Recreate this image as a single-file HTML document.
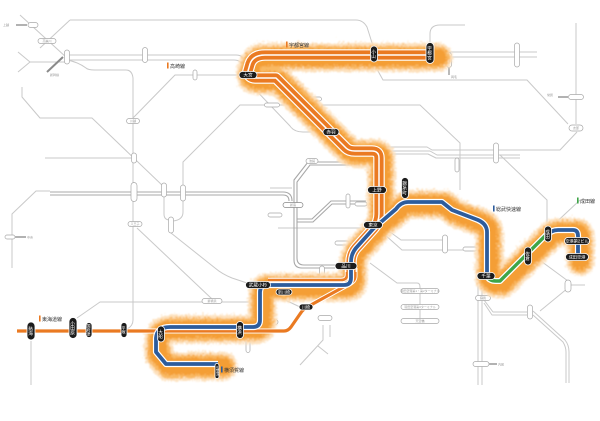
<!DOCTYPE html>
<html><head><meta charset="utf-8">
<style>
html,body{margin:0;padding:0;background:#fff;}
svg{display:block;}
text{font-family:"Liberation Sans","Noto Sans CJK JP",sans-serif;}
</style></head><body>
<svg width="600" height="421" viewBox="0 0 600 421" xmlns="http://www.w3.org/2000/svg">
<defs>
<filter id="glow" filterUnits="userSpaceOnUse" x="0" y="0" width="600" height="421">
<feTurbulence type="turbulence" baseFrequency="0.42" numOctaves="1" seed="5" result="t"/>
<feDisplacementMap in="SourceGraphic" in2="t" scale="7" xChannelSelector="R" yChannelSelector="G" result="d"/>
<feGaussianBlur in="d" stdDeviation="0.9"/>
</filter>
<path id="rn" d="M436,55 H265 Q253,55 250,64 L248,71 Q248,78 256,78 H276 L346,148 Q349,151 355,151 H372 Q379,151 379,158 V214 Q379,222 374,228 L356,248 Q351,254 351,262 V278 Q351,285 344,285 H267 Q260,285 260,292 V320 Q260,327 253,327 H170 Q157,327 156,338 V352 L166,364 H221"/>
<path id="re" d="M376,224 L396,209 Q401,202 408,202 H442 L452,210 L478,220 Q487,224 487,232 V276 Q489,281 496,281 H500 L545,237 Q551,230 558,230 H573 Q578,230 578,236 V259"/>
</defs>

<!-- gray network -->
<g fill="none" stroke="#c9c9c9" stroke-width="1" stroke-linejoin="round">
<path d="M70,20 H356 Q363,20 367,27 L373,46"/>
<path d="M20,15 L67,58"/>
<path d="M40,48 L70,20"/>
<path d="M18,52 L30,62 H67 M18,72 L30,62"/>
<path d="M67,55 H236 Q244,55 246,63 L247,72 M67,60 H234 Q241,60 243,66 L244,72"/>
<path d="M67,60 Q78,62 86,68 Q88,70 95,70 H126 Q132,70 133,78 V320 Q133,326 127,329"/>
<path d="M22,87 V97 L40,118 H92 L164,187"/>
<path d="M45,158 H133"/>
<path d="M133,118 L175,75 H240"/>
<path d="M183,186 V162 L240,105 H420 L460,143 V190"/>
<path d="M248,82 L290,126 Q294,132 303,132 H325"/>
<path d="M164,197 V214 Q164,220 170,220 M183,201 V212 Q183,220 173,221 M171,233 L215,268 Q222,274 232,278 L250,284"/>
<path d="M137,228 L212,299"/>
<path d="M77,318 L100,302 H252"/>
<path d="M31,341 V385 M17,329 H27 M17,333 H27"/>
<path d="M50,191 H36 L12,214 V268"/>
<path d="M430,43 V34 Q430,25 440,25 H465"/>
<path d="M434,52 H537 M434,57 H537"/>
<path d="M576,23 V124"/>
<path d="M373,62 L383,80 H527 L568,124"/>
<path d="M383,150 L390,147 H427 L432,150 H560 L577,132"/>
<path d="M383,155 L392,151 H430 L437,155 H520"/>
<path d="M383,158 L393,154 H428 L436,158 H520"/>
<path d="M500,155 L547,200 V227"/>
<path d="M549,229 L580,200"/>
<path d="M530,253 L568,281 V288 L540,311 M571,285 H585"/>
<path d="M478,282 V385 M482,282 V385"/>
<path d="M484,300 L493,312 H527 M484,303 L492,315 H527"/>
<path d="M533,311 L565,340 Q569,345 569,352 V383 M533,315 L563,342 Q566,347 566,352 V383"/>
<path d="M370,263 L397,283 H417 Q420,283 420,287 V323"/>
<path d="M323,325 V340 L300,365 M330,325 V337 M318,346 L328,354"/>
<path d="M386,229 L401,240 H446 M384,234 L402,250 H463"/>
<path d="M278,228 H362"/>
<path d="M262,289 L300,307"/>
<path d="M167,337 H240"/>
<path d="M270,188 H292"/>
</g>
<!-- Yamanote / Chuo darker -->
<g fill="none" stroke="#a8a8a8" stroke-width="1.1">
<path d="M363,162 H308 L294,180 V260 Q294,268 302,268 H335"/>
<path d="M363,165 H310 L297,182 V258 Q297,265 304,265 H335"/>
<path d="M50,192 H283 Q292,192 292,201 M50,195 H283 Q289,195 289,201"/>
<path d="M297,219 H312 L331,201 H366 M297,222 H313 L332,204 H366"/>
</g>
<path d="M47,72 L63,57" stroke="#8a8a8a" stroke-width="2" fill="none"/>
<!-- arrows -->
<g stroke="#666" stroke-width="0.9" fill="none">
<path d="M16,25 H27 M15,237 H26 M449,68 V75 M558,97 H568 M489,364 H497 M270,322 H262"/>
</g>
<g font-size="3" fill="#999">
<text x="3" y="26">上越</text>
<text x="27" y="238.5">中央</text>
<text x="451" y="78">両毛</text>
<text x="547" y="96">常磐</text>
<text x="498" y="365.5">内房</text>
<text x="50" y="76">新幹線</text>
</g>
<!-- gray pills -->
<g fill="#fff" stroke="#a9a9a9" stroke-width="0.7">
<rect x="28" y="22.5" width="10" height="5" rx="2.5"/>
<rect x="38" y="38.5" width="18" height="5" rx="2.5"/>
<rect x="64.5" y="50" width="5" height="14" rx="2.5"/>
<rect x="142.5" y="47.5" width="5" height="15" rx="2.5"/>
<rect x="193" y="70" width="4" height="10" rx="2"/>
<rect x="126.5" y="118.5" width="13" height="5" rx="2.5"/>
<rect x="131.5" y="153" width="5" height="10" rx="2.5"/>
<rect x="131" y="182.5" width="6" height="19" rx="3"/>
<rect x="161.5" y="183" width="5" height="14" rx="2.5"/>
<rect x="180.5" y="185" width="5" height="16" rx="2.5"/>
<rect x="168.5" y="217" width="5" height="16" rx="2.5"/>
<rect x="128" y="221.5" width="14" height="5" rx="2.5"/>
<rect x="5" y="235" width="10" height="4" rx="2"/>
<rect x="264.5" y="103" width="15" height="4" rx="2"/>
<rect x="306.5" y="97" width="15" height="4" rx="2"/>
<rect x="306" y="158.5" width="12" height="5" rx="2.5"/>
<rect x="357" y="159.5" width="10" height="5" rx="2.5"/>
<rect x="283" y="202.5" width="20" height="5" rx="2.5" stroke="#888"/>
<rect x="268" y="213" width="14" height="4" rx="2"/>
<rect x="346" y="194" width="4" height="14" rx="2"/>
<rect x="355" y="202" width="12" height="4" rx="2"/>
<rect x="335" y="241" width="14" height="4" rx="2"/>
<rect x="319.5" y="266" width="5" height="12" rx="2.5"/>
<rect x="202" y="298.5" width="20" height="5" rx="2.5"/>
<rect x="268" y="319.5" width="10" height="5" rx="2.5"/>
<rect x="246" y="337.5" width="4" height="15" rx="2"/>
<rect x="318" y="315.5" width="14" height="5" rx="2.5"/>
<rect x="401" y="288.5" width="38" height="5" rx="2.5"/>
<rect x="401" y="304.5" width="38" height="5" rx="2.5"/>
<rect x="401" y="318.5" width="38" height="5" rx="2.5"/>
<rect x="475.5" y="295.5" width="15" height="5" rx="2.5"/>
<rect x="527.5" y="305" width="5" height="14" rx="2.5"/>
<rect x="565" y="280" width="6" height="12" rx="3"/>
<rect x="473" y="361.5" width="16" height="5" rx="2.5"/>
<rect x="448" y="220" width="10" height="4" rx="2"/>
<rect x="442.5" y="235" width="5" height="18" rx="2.5"/>
<rect x="463" y="247" width="14" height="4" rx="2"/>
<rect x="446.5" y="52.5" width="5" height="15" rx="2.5"/>
<rect x="514.5" y="43" width="5" height="24" rx="2.5"/>
<rect x="568.5" y="94.5" width="15" height="5" rx="2.5"/>
<rect x="569" y="125" width="14" height="6" rx="3"/>
<rect x="493.5" y="143" width="5" height="20" rx="2.5"/>
<rect x="455" y="158" width="4" height="14" rx="2"/>
</g>
<g font-size="3" fill="#9a9a9a" text-anchor="middle">
<text x="420" y="292.2">羽田空港第1・第2ターミナル</text>
<text x="420" y="308.2">羽田空港第3ターミナル</text>
<text x="420" y="322.2">天空橋</text>
<text x="212" y="302.2">新横浜</text>
<text x="293" y="206.2">新宿</text>
<text x="312" y="162.2">池袋</text>
<text x="133" y="122.2">川越</text>
<text x="135" y="225.2">八王子</text>
<text x="47" y="42.2">高麗川</text>
<text x="483" y="299.2">蘇我</text>
<text x="576" y="129.2">友部</text>
</g>

<!-- glow -->
<g filter="url(#glow)" fill="none" stroke-linecap="round" stroke-linejoin="round">
<use href="#rn" stroke="#fde1bd" stroke-width="29"/>
<use href="#re" stroke="#fde1bd" stroke-width="29"/>
<use href="#rn" stroke="#f9b964" stroke-width="23"/>
<use href="#re" stroke="#f9b964" stroke-width="23"/>
<use href="#rn" stroke="#f49e34" stroke-width="17"/>
<use href="#re" stroke="#f49e34" stroke-width="17"/>
</g>

<!-- colored lines -->
<g fill="none" stroke-linejoin="round">
<!-- Tokaido -->
<path d="M17,331 H284 Q288,331 291,327 L300,314 Q303,309 309,306 L349,284 Q355,281 355,276 V268" stroke="#fff" stroke-width="5"/>
<path d="M17,331 H284 Q288,331 291,327 L300,314 Q303,309 309,306 L349,284 Q355,281 355,276 V268" stroke="#ea7a22" stroke-width="3.2"/>
<!-- orange along blue to Musashi-Kosugi -->
<path d="M347,268 V275 Q347,280 341,280 H268" stroke="#fff" stroke-width="4.5"/>
<path d="M347,268 V275 Q347,280 341,280 H268" stroke="#ea7a22" stroke-width="2.6"/>
<!-- north double orange -->
<path d="M433,55 H265 Q253,55 250,64 L248,71 Q248,78 256,78 H276 L346,148 Q349,151 355,151 H372 Q379,151 379,158 V214 Q379,222 374,228 L356,248 Q351,254 351,262 V272" stroke="#fff" stroke-width="11.5"/>
<path d="M433,55 H265 Q253,55 250,64 L248,71 Q248,78 256,78 H276 L346,148 Q349,151 355,151 H372 Q379,151 379,158 V214 Q379,222 374,228 L356,248 Q351,254 351,262 V272" stroke="#ea7a22" stroke-width="9.2"/>
<path d="M433,55 H265 Q253,55 250,64 L248,71 Q248,78 256,78 H276 L346,148 Q349,151 355,151 H372 Q379,151 379,158 V214 Q379,222 374,228 L356,248 Q351,254 351,262 V272" stroke="#fff" stroke-width="1.5"/>
<!-- blue -->
<path d="M218,364 H166 L156,352 V338 Q157,327 170,327 H253 Q260,327 260,320 V292 Q260,285 267,285 H344 Q351,285 351,278 V262 Q351,254 356,248 L374,228 L396,209 Q401,202 408,202 H442 L452,210 L478,220 Q487,224 487,232 V277" stroke="#fff" stroke-width="6.2"/>
<path d="M218,364 H166 L156,352 V338 Q157,327 170,327 H253 Q260,327 260,320 V292 Q260,285 267,285 H344 Q351,285 351,278 V262 Q351,254 356,248 L374,228 L396,209 Q401,202 408,202 H442 L452,210 L478,220 Q487,224 487,232 V277" stroke="#2d5c9c" stroke-width="3.8"/>
<!-- green -->
<path d="M487,276 Q489,281 496,281 H500 L548,233" stroke="#fff" stroke-width="6"/>
<path d="M487,276 Q489,281 496,281 H500 L548,233" stroke="#3ea548" stroke-width="3.4"/>
<!-- blue to airport -->
<path d="M546,236 Q551,230 558,230 H573 Q578,230 578,236 V258" stroke="#fff" stroke-width="6.2"/>
<path d="M546,236 Q551,230 558,230 H573 Q578,230 578,236 V258" stroke="#2d5c9c" stroke-width="3.8"/>
</g>

<!-- line labels -->
<rect x="286" y="41.5" width="1.6" height="6" fill="#ea7a22"/>
<text x="289" y="47" font-size="5" fill="#333">宇都宮線</text>
<rect x="167" y="62.5" width="1.6" height="6" fill="#ea7a22"/>
<text x="170" y="68" font-size="5" fill="#333">高崎線</text>
<rect x="39" y="315.5" width="1.6" height="6" fill="#ea7a22"/>
<text x="42" y="321" font-size="5" fill="#333">東海道線</text>
<rect x="221" y="366.5" width="1.6" height="6" fill="#2d5c9c"/>
<text x="224" y="372" font-size="5" fill="#333">横須賀線</text>
<rect x="493" y="205.5" width="1.6" height="6" fill="#2d5c9c"/>
<text x="496" y="211" font-size="5" fill="#333">総武快速線</text>
<rect x="577" y="197.5" width="1.6" height="6" fill="#3ea548"/>
<text x="580" y="203" font-size="5" fill="#333">成田線</text>

<!-- black station pills -->
<g fill="#1c1c1c" stroke="#fff" stroke-width="0.8">
<rect x="426" y="42.5" width="8" height="21" rx="4"/>
<rect x="370.5" y="46" width="7" height="16" rx="3.5"/>
<rect x="239" y="71.5" width="18" height="7" rx="3.5"/>
<rect x="323" y="128.5" width="16" height="7" rx="3.5"/>
<rect x="367.5" y="186.5" width="19" height="7" rx="3.5"/>
<rect x="401.5" y="177.5" width="7" height="21" rx="3.5"/>
<rect x="363.5" y="221.5" width="19" height="7" rx="3.5"/>
<rect x="335" y="262.5" width="22" height="7" rx="3.5"/>
<rect x="245.5" y="281.5" width="25" height="7" rx="3.5"/>
<rect x="276" y="289" width="16" height="6" rx="3"/>
<rect x="299" y="304" width="14" height="6" rx="3"/>
<rect x="236.5" y="321.5" width="7" height="17" rx="3.5"/>
<rect x="157.5" y="326" width="7" height="16" rx="3.5"/>
<rect x="215" y="363.5" width="4" height="15" rx="2"/>
<rect x="477" y="272.5" width="18" height="7" rx="3.5"/>
<rect x="524.5" y="247" width="7" height="18" rx="3.5"/>
<rect x="544.5" y="226" width="7" height="16" rx="3.5"/>
<rect x="564.5" y="237.5" width="25" height="7" rx="3.5"/>
<rect x="565.5" y="253.5" width="23" height="7" rx="3.5"/>
<rect x="27" y="322" width="8" height="18" rx="4"/>
<rect x="69" y="317.5" width="8" height="21" rx="4"/>
<rect x="86" y="322.5" width="6" height="15" rx="3"/>
<rect x="121" y="322.5" width="6" height="15" rx="3"/>
</g>
<g fill="#fff" font-size="4.6" text-anchor="middle">
<text x="248" y="76.7">大宮</text>
<text x="331" y="133.7">赤羽</text>
<text x="377" y="191.7">上野</text>
<text x="373" y="226.7">東京</text>
<text x="346" y="267.7">品川</text>
<text x="258" y="286.7">武蔵小杉</text>
<text x="284" y="293.6" font-size="4">新川崎</text>
<text x="306" y="308.6" font-size="4">川崎</text>
<text x="486" y="277.7">千葉</text>
<text x="577" y="242.7" font-size="4.2">空港第2ビル</text>
<text x="577" y="258.7" font-size="4.2">成田空港</text>
</g>
<g fill="#fff" font-size="4.6" text-anchor="middle" style="writing-mode:vertical-rl">
<text x="430" y="53">宇都宮</text>
<text x="374" y="54">小山</text>
<text x="405" y="188">錦糸町</text>
<text x="240" y="330">横浜</text>
<text x="161" y="334">大船</text>
<text x="528" y="256">佐倉</text>
<text x="548" y="234">成田</text>
<text x="31" y="331">熱海</text>
<text x="73" y="328">小田原</text>
<text x="89" y="330" font-size="4">国府津</text>
<text x="124" y="330" font-size="4">平塚</text>
<text x="217" y="371" font-size="3.2">久里浜</text>
</g>
</svg>
</body></html>
